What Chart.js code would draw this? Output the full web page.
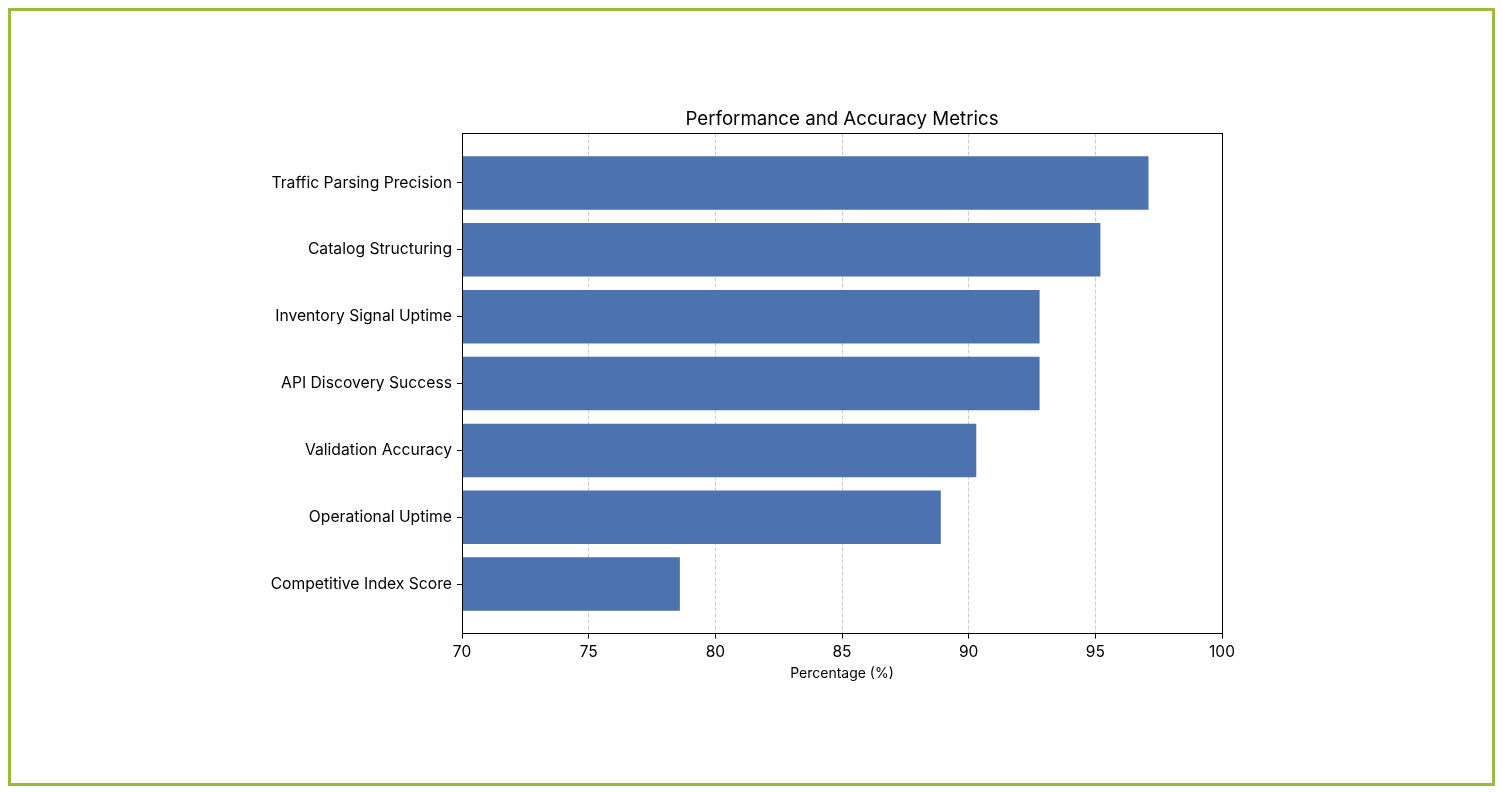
<!DOCTYPE html>
<html>
<head>
<meta charset="utf-8">
<script src="https://cdn.jsdelivr.net/npm/chart.js@4/dist/chart.umd.min.js"></script>
<style>
  html, body { margin: 0; padding: 0; background: #fff; }
  #wrap { position: relative; width: 1503px; height: 793px; }
  #frame { position: absolute; left: 8px; top: 8px; width: 1487px; height: 778px; box-sizing: border-box; border: 3px solid #9bbb3b; pointer-events: none; }
  canvas { position: absolute; left: 0; top: 0; }
</style>
</head>
<body>
<div id="wrap">
  <canvas id="chart" width="1503" height="793"></canvas>
  <div id="frame"></div>
</div>
<script>
(function () {
  'use strict';

  var categories = ['Traffic Parsing Precision', 'Catalog Structuring', 'Inventory Signal Uptime', 'API Discovery Success', 'Validation Accuracy', 'Operational Uptime', 'Competitive Index Score'];
  var values = [97.1, 95.2, 92.8, 92.8, 90.3, 88.9, 78.6];
  var xTicks = [70, 75, 80, 85, 90, 95, 100];

  var font = "Inter, 'DejaVu Sans', sans-serif";

  // black box round the plot, like the spines
  var spines = {
    id: 'spines',
    afterDraw: function (chart) {
      var a = chart.chartArea, ctx = chart.ctx;
      ctx.save();
      ctx.strokeStyle = '#000';
      ctx.lineWidth = 1;
      ctx.strokeRect(Math.round(a.left) + 0.5, Math.round(a.top) + 0.5, Math.round(a.right - a.left), Math.round(a.bottom - a.top));
      ctx.restore();
    }
  };

  new Chart(document.getElementById('chart'), {
    type: 'bar',
    data: {
      datasets: [{
        data: values.map(function (v, i) { return { x: v, y: i }; }),
        backgroundColor: '#4c72b0',
        borderWidth: 0,
        barPercentage: 0.8,
        categoryPercentage: 1
      }]
    },
    options: {
      indexAxis: 'y',
      responsive: false,
      animation: false,
      layout: { padding: { left: 0, right: 281, top: 107, bottom: 107 } },
      plugins: { legend: { display: false }, tooltip: { enabled: false } },
      scales: {
        x: {
          type: 'linear',
          min: 70, max: 100,
          z: 1,
          afterBuildTicks: function (s) { s.ticks = xTicks.map(function (v) { return { value: v }; }); },
          ticks: { color: '#000', font: { family: font, size: 15.5 }, padding: 4 },
          grid: { color: 'rgba(190,190,190,0.8)', lineWidth: 1, tickColor: '#000', tickWidth: 1, tickLength: 5 },
          border: { display: false, dash: [4, 2] },
          title: { display: true, text: 'Percentage (%)', color: '#000', font: { family: font, size: 14 }, padding: { top: 0, bottom: 4 } }
        },
        x2: {
          type: 'linear',
          position: 'top',
          min: 70, max: 100,
          ticks: { display: false },
          grid: { display: false, drawTicks: false },
          border: { display: false },
          title: { display: true, text: 'Performance and Accuracy Metrics', color: '#000', font: { family: font, size: 18.7 }, padding: { top: 1, bottom: 3 } }
        },
        y: {
          type: 'linear',
          reverse: true,
          offset: false,
          min: -0.74, max: 6.74,
          afterBuildTicks: function (s) { s.ticks = categories.map(function (c, i) { return { value: i }; }); },
          afterFit: function (s) { s.width = 462; },
          ticks: {
            autoSkip: false,
            color: '#000',
            font: { family: font, size: 15.7 },
            padding: 5,
            callback: function (v) { return categories[v]; }
          },
          grid: { offset: false, drawOnChartArea: false, tickColor: '#000', tickWidth: 1, tickLength: 5 },
          border: { display: false }
        }
      }
    },
    plugins: [spines]
  });
})();
</script>
</body>
</html>
